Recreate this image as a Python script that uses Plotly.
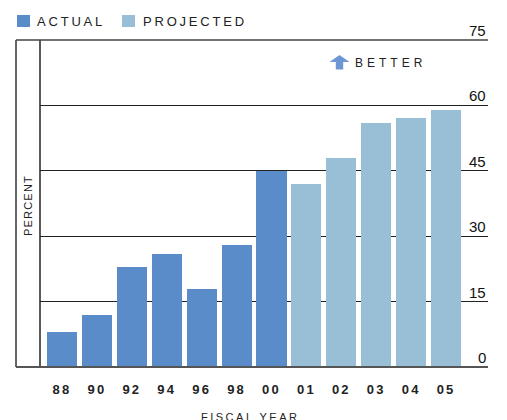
import plotly.graph_objects as go

# Fiscal-year performance, percent
years = ["88", "90", "92", "94", "96", "98", "00", "01", "02", "03", "04", "05"]
values = [8, 12, 23, 26, 18, 28, 45, 42, 48, 56, 57, 59]
status = ["ACTUAL"] * 7 + ["PROJECTED"] * 5
y_ticks = [0, 15, 30, 45, 60, 75]

COLORS = {"ACTUAL": "#5b8cca", "PROJECTED": "#99bfd6"}
FONT = "Liberation Sans, Arial, Helvetica, sans-serif"

W, H = 507, 420
ML, MR, MT, MB = 40, 19, 40, 53
PW, PH = W - ML - MR, H - MT - MB


def px(x):
    return (x - ML) / PW


def py(y):
    return (H - MB - y) / PH


def spaced(text, ls):
    return f'<span style="letter-spacing:{ls}px">{text}</span>'


xs = list(range(len(years)))

fig = go.Figure()
for grp in ["ACTUAL", "PROJECTED"]:
    idx = [i for i, s in enumerate(status) if s == grp]
    fig.add_trace(go.Bar(
        x=[xs[i] for i in idx],
        y=[values[i] for i in idx],
        name=grp,
        marker=dict(color=COLORS[grp], line=dict(width=0)),
        width=0.86,
        showlegend=False,
    ))

shapes = []
annotations = []

# frame: left label box, top rule, baseline
shapes.append(dict(type="line", xref="paper", yref="paper", x0=px(16), x1=px(16), y0=0, y1=1,
                   line=dict(color="#333", width=1.5)))
shapes.append(dict(type="line", xref="paper", yref="paper", x0=0, x1=0, y0=0, y1=1,
                   line=dict(color="#222", width=1.5)))
shapes.append(dict(type="line", xref="paper", yref="paper", x0=px(16), x1=1, y0=1, y1=1,
                   line=dict(color="#444", width=1.5)))
shapes.append(dict(type="line", xref="paper", yref="paper", x0=px(16), x1=1, y0=0, y1=0,
                   line=dict(color="#555", width=2)))

# value labels on the right, sitting above each rule
for t in y_ticks:
    annotations.append(dict(text=str(t), xref="paper", yref="y", x=1, y=t,
                            xanchor="right", yanchor="bottom", showarrow=False,
                            yshift=-1, font=dict(family=FONT, size=15, color="#111")))

# legend
legend_items = [("ACTUAL", 17, 35), ("PROJECTED", 122, 141)]
for name, sx, tx in legend_items:
    shapes.append(dict(type="rect", xref="paper", yref="paper", x0=px(sx), x1=px(sx + 13),
                       y0=py(27), y1=py(15), fillcolor=COLORS[name], line=dict(width=0)))
    annotations.append(dict(text=spaced(name, 2.8), xref="paper", yref="paper", x=px(tx), y=py(21.5),
                            xanchor="left", yanchor="middle", showarrow=False,
                            font=dict(family=FONT, size=13, color="#222")))

# "better" indicator arrow
arrow_pts = [(339.5, 55), (349.5, 62), (343.2, 62), (343.2, 69.5), (335.8, 69.5), (335.8, 62), (329.5, 62)]
path = "M " + " L ".join(f"{px(a):.5f},{py(b):.5f}" for a, b in arrow_pts) + " Z"
shapes.append(dict(type="path", xref="paper", yref="paper", path=path,
                   fillcolor="#6f96d4", line=dict(width=0)))
annotations.append(dict(text=spaced("BETTER", 4), xref="paper", yref="paper", x=px(353), y=py(63),
                        xanchor="left", yanchor="middle", showarrow=False,
                        font=dict(family=FONT, size=12, color="#222")))

# axis captions
annotations.append(dict(text=spaced("PERCENT", 1.2), xref="paper", yref="paper", x=px(28), y=py(206),
                        xanchor="center", yanchor="middle", textangle=-90, showarrow=False,
                        font=dict(family=FONT, size=11, color="#222")))
annotations.append(dict(text=spaced("FISCAL YEAR", 2.5), xref="paper", yref="paper", x=px(250), y=py(409),
                        xanchor="center", yanchor="top", showarrow=False,
                        font=dict(family=FONT, size=11, color="#222")))

fig.update_layout(
    width=W, height=H,
    margin=dict(l=ML, r=MR, t=MT, b=MB, pad=0),
    paper_bgcolor="white", plot_bgcolor="white",
    bargap=0,
    shapes=shapes,
    annotations=annotations,
    xaxis=dict(
        range=[-0.63, 12.2],
        tickvals=xs,
        ticktext=[f"<b>{spaced(y, 2.2)}</b>" for y in years],
        tickfont=dict(family=FONT, size=13, color="#222"),
        ticks="", showline=False, showgrid=False, zeroline=False,
        ticklabelstandoff=13,
    ),
    yaxis=dict(
        range=[0, 75],
        tickvals=y_ticks,
        showticklabels=False,
        ticks="",
        showgrid=True, gridcolor="#222", gridwidth=1.3,
        showline=False, zeroline=False,
    ),
)

fig.write_html("out.html")
